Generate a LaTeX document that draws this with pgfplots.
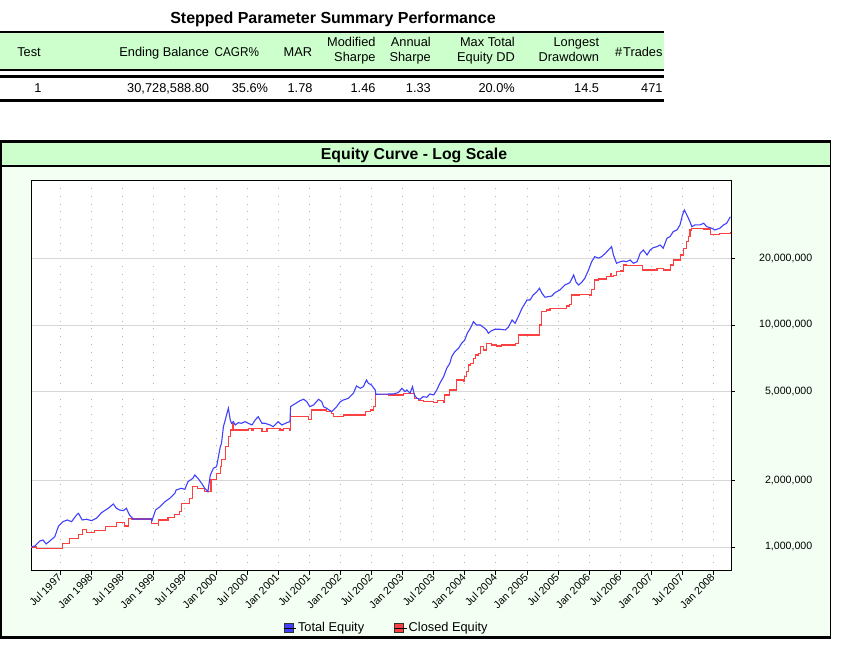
\documentclass[border=0pt]{standalone}
\usepackage{graphicx}
\usepackage{pgfplots}
\pgfplotsset{compat=1.18}
\usepackage{fontspec}
\setmainfont{Liberation Sans}
\definecolor{hdrgreen}{RGB}{204,255,204}
\definecolor{panelbg}{RGB}{244,255,244}
\definecolor{eqblue}{RGB}{64,64,255}
\definecolor{eqred}{RGB}{255,64,64}
\definecolor{gridgray}{RGB}{215,215,215}
\newcommand{\tf}{\fontsize{12.8bp}{15bp}\selectfont}
\begin{document}
\begin{tikzpicture}[x=1bp,y=1bp]
\path[use as bounding box] (0,0) rectangle (842,649);
% ---------- summary table ----------
\node[font=\bfseries\fontsize{16bp}{19bp}\selectfont, anchor=base, inner sep=0] at (333,625.3) {Stepped Parameter Summary Performance};
\fill[hdrgreen] (0,649-32) rectangle (664,649-70);
\draw[line width=2.2bp] (0,649-32.3) -- (664,649-32.3);
\draw[line width=2.2bp] (0,649-70.2) -- (664,649-70.2);
\draw[line width=2.2bp] (0,649-76.5) -- (664,649-76.5);
\draw[line width=2.2bp] (0,649-100.5) -- (664,649-100.5);
\begin{scope}[every node/.style={font=\tf, inner sep=0}]
\node[anchor=base] at (29,592.3) {Test};
\node[anchor=base east] at (209.3,592.3) {Ending Balance};
\node[anchor=base east] at (259.3,592.3) {\scalebox{0.92}[1]{CAGR\%}};
\node[anchor=base east] at (312.3,592.3) {MAR};
\node[anchor=base east] at (375.7,602.7) {Modified};
\node[anchor=base east] at (375.7,587.1) {Sharpe};
\node[anchor=base east] at (431,602.7) {Annual};
\node[anchor=base east] at (431,587.1) {Sharpe};
\node[anchor=base east] at (515,602.7) {Max Total};
\node[anchor=base east] at (515,587.1) {Equity DD};
\node[anchor=base east] at (599.3,602.7) {Longest};
\node[anchor=base east] at (599.3,587.1) {Drawdown};
\node[anchor=base east] at (662.7,592.3) {\#\kern1bp Trades};
\node[anchor=base] at (38,556.1) {1};
\node[anchor=base east] at (209.3,556.1) {30,728,588.80};
\node[anchor=base east] at (268.3,556.1) {35.6\%};
\node[anchor=base east] at (312.7,556.1) {1.78};
\node[anchor=base east] at (375.7,556.1) {1.46};
\node[anchor=base east] at (431,556.1) {1.33};
\node[anchor=base east] at (515,556.1) {20.0\%};
\node[anchor=base east] at (599.3,556.1) {14.5};
\node[anchor=base east] at (662.7,556.1) {471};
\end{scope}
% ---------- chart panel ----------
\fill[panelbg] (0,649-141) rectangle (830,649-637);
\fill[hdrgreen] (0,649-142) rectangle (830,649-166);
\draw[line width=1.5bp] (0,649-166) -- (830,649-166);
\draw[line width=1bp] (830,649-141) -- (830,649-637);
\draw[line width=3bp] (0,649-141.5) -- (831,649-141.5);
\draw[line width=2.5bp] (1.2,649-141) -- (1.2,649-637);
\draw[line width=3bp] (0,649-637.5) -- (831,649-637.5);
\node[font=\bfseries\fontsize{15.8bp}{18bp}\selectfont, anchor=base, inner sep=0] at (414,489.3) {Equity Curve - Log Scale};
\begin{axis}[
  at={(31bp,78bp)}, anchor=south west,
  width=700bp, height=390bp, scale only axis,
  xmin=1997.027, xmax=2008.28,
  ymode=log, ymin=779600, ymax=44530000,
  xtick={1997.5,1998,1998.5,1999,1999.5,2000,2000.5,2001,2001.5,2002,2002.5,2003,2003.5,2004,2004.5,2005,2005.5,2006,2006.5,2007,2007.5,2008},
  xticklabels={Jul 1997,Jan 1998,Jul 1998,Jan 1999,Jul 1999,Jan 2000,Jul 2000,Jan 2001,Jul 2001,Jan 2002,Jul 2002,Jan 2003,Jul 2003,Jan 2004,Jul 2004,Jan 2005,Jul 2005,Jan 2006,Jul 2006,Jan 2007,Jul 2007,Jan 2008},
  ytick={1000000,2000000,5000000,10000000,20000000},
  yticklabels={{1,000,000},{2,000,000},{5,000,000},{10,000,000},{20,000,000}},
  xtick pos=bottom, ytick pos=right, yticklabel pos=right,
  tick align=outside, major tick length=4bp,
  yminorticks=false, xminorticks=false,
  xmajorgrids, ymajorgrids,
  x grid style={black!30, line width=0.8bp, dash pattern=on 0.8bp off 7bp},
  y grid style={gridgray, line width=0.9bp},
  axis line style={line width=1bp},
  tick style={black, line width=0.8bp},
  axis background/.style={fill=white},
  xticklabel style={rotate=45, anchor=east, inner sep=1bp, font=\fontsize{10.6bp}{12bp}\selectfont},
  yticklabel style={anchor=west, inner sep=0pt, text width=77bp, align=right, font=\fontsize{10.6bp}{12bp}\selectfont},
  legend columns=2,
  legend style={draw=none, fill=none, at={(axis description cs:0.508,-0.146)}, anchor=center,
    font=\fontsize{12.8bp}{14bp}\selectfont,
    /tikz/every even column/.append style={column sep=28bp}},
]
\addlegendimage{legend image code/.code={\draw[draw=black!80,fill=eqblue,line width=0.6bp] (0bp,-4.5bp) rectangle (9bp,4.5bp); \path (0bp,0bp) -- (12bp,0bp);}}
\addlegendentry{Total Equity}
\addlegendimage{legend image code/.code={\draw[draw=black!80,fill=eqred,line width=0.6bp] (0bp,-4.5bp) rectangle (9bp,4.5bp); \path (0bp,0bp) -- (12bp,0bp);}}
\addlegendentry{Closed Equity}
\addplot[eqred, line width=1.1bp, const plot, forget plot] coordinates {
(1997.03,1.000e6) (1997.11,0.987e6) (1997.54,1.039e6) (1997.65,1.087e6) (1997.79,1.133e6) (1997.85,1.202e6) (1997.92,1.160e6) (1998.05,1.184e6) (1998.22,1.234e6) (1998.40,1.287e6) (1998.53,1.243e6) (1998.59,1.347e6) (1998.64,1.337e6) (1998.96,1.279e6) (1999.07,1.256e6) (1999.08,1.323e6) (1999.23,1.361e6) (1999.34,1.394e6) (1999.42,1.442e6) (1999.44,1.573e6) (1999.58,1.657e6) (1999.63,1.869e6) (1999.71,1.838e6) (1999.82,1.775e6) (1999.92,2.004e6) (1999.98,2.016e6) (2000.01,2.148e6) (2000.07,2.300e6) (2000.09,2.466e6) (2000.15,2.830e6) (2000.20,3.139e6) (2000.23,3.365e6) (2000.26,3.607e6) (2000.28,3.365e6) (2000.52,3.425e6) (2000.58,3.365e6) (2000.60,3.425e6) (2000.74,3.307e6) (2000.82,3.425e6) (2001.03,3.365e6) (2001.08,3.425e6) (2001.19,3.365e6) (2001.20,3.863e6) (2001.49,3.760e6) (2001.54,4.141e6) (2001.78,4.069e6) (2001.86,4.002e6) (2001.89,3.863e6) (2002.05,3.932e6) (2002.40,4.069e6) (2002.48,4.141e6) (2002.53,4.285e6) (2002.56,4.594e6) (2002.57,4.874e6) (2002.77,4.838e6) (2003.01,4.925e6) (2003.19,4.676e6) (2003.25,4.560e6) (2003.33,4.514e6) (2003.50,4.467e6) (2003.56,4.560e6) (2003.66,4.480e6) (2003.68,4.838e6) (2003.76,5.096e6) (2003.87,5.652e6) (2003.98,5.553e6) (2004.00,5.850e6) (2004.03,6.161e6) (2004.06,6.604e6) (2004.09,6.722e6) (2004.14,7.080e6) (2004.17,7.326e6) (2004.22,7.456e6) (2004.25,7.985e6) (2004.30,7.716e6) (2004.35,8.271e6) (2004.43,8.126e6) (2004.51,8.043e6) (2004.59,8.126e6) (2004.81,8.271e6) (2004.86,9.015e6) (2005.20,10.00e6) (2005.24,11.48e6) (2005.32,11.68e6) (2005.37,11.89e6) (2005.64,12.18e6) (2005.69,12.31e6) (2005.72,13.65e6) (2005.85,13.75e6) (2006.01,13.65e6) (2006.04,14.38e6) (2006.09,15.95e6) (2006.15,16.11e6) (2006.28,16.50e6) (2006.34,17.10e6) (2006.36,16.50e6) (2006.39,16.68e6) (2006.44,17.38e6) (2006.50,17.51e6) (2006.55,18.63e6) (2006.60,18.50e6) (2006.85,17.69e6) (2007.09,18.00e6) (2007.19,17.69e6) (2007.30,18.63e6) (2007.35,19.63e6) (2007.47,20.67e6) (2007.51,22.16e6) (2007.57,23.73e6) (2007.60,25.00e6) (2007.62,26.79e6) (2007.65,27.26e6) (2007.84,27.07e6) (2007.95,25.62e6) (2008.10,25.89e6) (2008.27,26.16e6)
};
\addplot[eqblue, line width=1.1bp, forget plot] coordinates {
(1997.03,1.000e6) (1997.09,1.010e6) (1997.17,1.064e6) (1997.22,1.075e6) (1997.27,1.032e6) (1997.33,1.064e6) (1997.41,1.113e6) (1997.47,1.243e6) (1997.54,1.300e6) (1997.61,1.323e6) (1997.68,1.300e6) (1997.76,1.394e6) (1997.79,1.418e6) (1997.85,1.323e6) (1997.92,1.333e6) (1998.00,1.314e6) (1998.08,1.347e6) (1998.16,1.427e6) (1998.27,1.494e6) (1998.35,1.562e6) (1998.40,1.494e6) (1998.45,1.468e6) (1998.51,1.457e6) (1998.56,1.494e6) (1998.61,1.394e6) (1998.67,1.337e6) (1998.96,1.337e6) (1998.97,1.310e6) (1999.03,1.468e6) (1999.10,1.519e6) (1999.18,1.600e6) (1999.26,1.657e6) (1999.34,1.745e6) (1999.36,1.806e6) (1999.44,1.838e6) (1999.50,1.819e6) (1999.55,1.969e6) (1999.63,2.039e6) (1999.66,2.110e6) (1999.71,2.039e6) (1999.77,1.936e6) (1999.82,1.838e6) (1999.87,1.775e6) (1999.91,2.110e6) (1999.96,2.262e6) (2000.01,2.300e6) (2000.04,2.551e6) (2000.07,2.830e6) (2000.09,2.932e6) (2000.12,3.483e6) (2000.15,3.733e6) (2000.17,3.932e6) (2000.20,4.215e6) (2000.23,3.733e6) (2000.25,3.607e6) (2000.28,3.668e6) (2000.31,3.545e6) (2000.36,3.630e6) (2000.41,3.607e6) (2000.47,3.668e6) (2000.52,3.607e6) (2000.58,3.545e6) (2000.63,3.733e6) (2000.68,3.863e6) (2000.74,3.607e6) (2000.79,3.607e6) (2000.87,3.545e6) (2000.92,3.483e6) (2001.00,3.668e6) (2001.06,3.545e6) (2001.14,3.630e6) (2001.19,3.668e6) (2001.20,4.285e6) (2001.24,4.362e6) (2001.30,4.467e6) (2001.35,4.560e6) (2001.41,4.627e6) (2001.46,4.514e6) (2001.51,4.285e6) (2001.57,4.362e6) (2001.65,4.627e6) (2001.70,4.514e6) (2001.73,4.285e6) (2001.78,4.215e6) (2001.86,4.069e6) (2001.89,4.141e6) (2001.94,4.285e6) (2002.00,4.514e6) (2002.05,4.594e6) (2002.13,4.676e6) (2002.21,4.925e6) (2002.26,5.311e6) (2002.32,5.187e6) (2002.37,5.273e6) (2002.42,5.652e6) (2002.45,5.462e6) (2002.50,5.367e6) (2002.56,5.096e6) (2002.57,4.874e6) (2002.85,4.889e6) (2002.93,4.955e6) (2002.99,5.187e6) (2003.04,5.007e6) (2003.07,5.096e6) (2003.12,4.925e6) (2003.16,5.273e6) (2003.19,4.838e6) (2003.23,4.676e6) (2003.28,4.627e6) (2003.33,4.754e6) (2003.39,4.725e6) (2003.44,4.889e6) (2003.50,4.838e6) (2003.55,5.096e6) (2003.60,5.462e6) (2003.66,5.850e6) (2003.71,6.382e6) (2003.76,6.722e6) (2003.79,7.199e6) (2003.84,7.582e6) (2003.90,7.853e6) (2003.95,8.271e6) (2004.00,8.559e6) (2004.04,9.175e6) (2004.09,9.664e6) (2004.14,10.35e6) (2004.19,10.00e6) (2004.25,10.00e6) (2004.30,9.764e6) (2004.35,9.495e6) (2004.38,9.175e6) (2004.43,9.427e6) (2004.49,9.564e6) (2004.57,9.564e6) (2004.65,9.495e6) (2004.70,9.764e6) (2004.76,10.53e6) (2004.81,10.18e6) (2004.86,10.90e6) (2004.92,11.89e6) (2004.97,12.53e6) (2005.00,12.96e6) (2005.05,12.96e6) (2005.10,13.65e6) (2005.16,14.13e6) (2005.20,14.63e6) (2005.24,13.89e6) (2005.29,13.33e6) (2005.34,13.41e6) (2005.40,13.51e6) (2005.45,13.98e6) (2005.53,14.38e6) (2005.61,15.14e6) (2005.69,15.51e6) (2005.75,16.80e6) (2005.79,15.57e6) (2005.83,15.14e6) (2005.88,15.57e6) (2005.93,16.23e6) (2005.99,17.69e6) (2006.04,19.28e6) (2006.09,20.31e6) (2006.15,20.00e6) (2006.20,20.31e6) (2006.26,21.04e6) (2006.31,21.77e6) (2006.36,22.53e6) (2006.39,20.67e6) (2006.44,18.96e6) (2006.50,19.28e6) (2006.55,19.42e6) (2006.60,19.28e6) (2006.66,19.63e6) (2006.71,18.96e6) (2006.77,19.28e6) (2006.82,21.04e6) (2006.87,21.77e6) (2006.93,20.67e6) (2006.98,21.77e6) (2007.03,22.30e6) (2007.09,22.53e6) (2007.14,22.93e6) (2007.19,22.16e6) (2007.25,24.58e6) (2007.30,25.00e6) (2007.35,26.32e6) (2007.41,26.79e6) (2007.46,28.22e6) (2007.50,31.30e6) (2007.53,32.96e6) (2007.57,31.30e6) (2007.62,29.20e6) (2007.65,27.72e6) (2007.70,28.22e6) (2007.78,28.22e6) (2007.84,28.72e6) (2007.89,27.72e6) (2007.97,27.26e6) (2008.02,26.79e6) (2008.10,27.26e6) (2008.16,28.22e6) (2008.21,28.72e6) (2008.27,30.73e6)
};
\end{axis}
\end{tikzpicture}
\end{document}
